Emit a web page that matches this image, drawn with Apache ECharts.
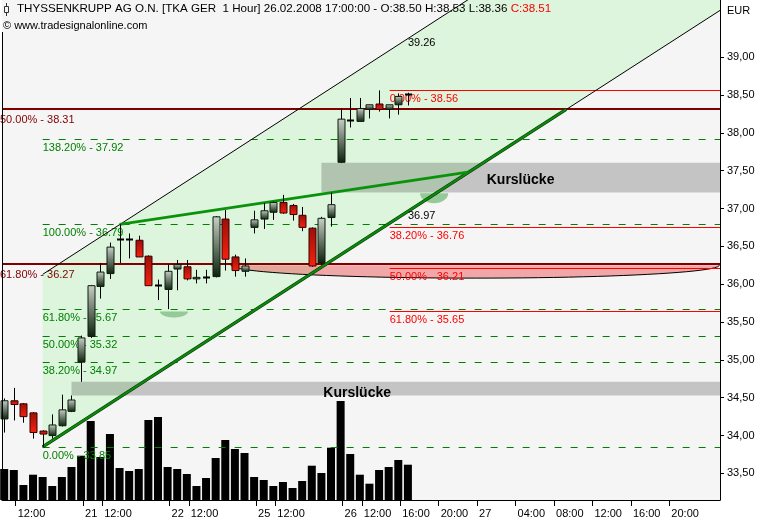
<!DOCTYPE html>
<html>
<head>
<meta charset="utf-8">
<script src="https://cdn.jsdelivr.net/npm/echarts@6/dist/echarts.min.js"></script>
<style>
html,body{margin:0;padding:0;background:#ffffff;}
#chart{width:769px;height:520px;}
</style>
</head>
<body>
<div id="chart"></div>
<script>
// ---------------- data ----------------
const barTimes = [
 '20.02. 11:00','20.02. 12:00','20.02. 13:00','20.02. 14:00','20.02. 15:00','20.02. 16:00','20.02. 17:00','20.02. 17:30',
 '21.02. 10:00','21.02. 11:00','21.02. 12:00','21.02. 13:00','21.02. 14:00','21.02. 15:00','21.02. 16:00','21.02. 17:00','21.02. 17:30',
 '22.02. 10:00','22.02. 11:00','22.02. 12:00','22.02. 13:00','22.02. 14:00','22.02. 15:00','22.02. 16:00','22.02. 17:00','22.02. 17:30',
 '25.02. 10:00','25.02. 11:00','25.02. 12:00','25.02. 13:00','25.02. 14:00','25.02. 15:00','25.02. 16:00','25.02. 17:00','25.02. 17:30',
 '26.02. 10:00','26.02. 11:00','26.02. 12:00','26.02. 13:00','26.02. 14:00','26.02. 15:00','26.02. 16:00','26.02. 17:00'
];
const opens  = [34.22,34.46,34.42,34.30,34.06,34.00,34.13,34.32, 34.97,35.31,35.97,36.14,36.59,36.60,36.58,36.37,35.99,
                35.93,36.20,36.23,36.07,36.09,36.10,36.86,36.36,36.17, 36.75,36.86,36.95,37.08,37.04,36.91,36.74,36.28,36.88,
                37.61,38.17,38.15,38.31,38.38,38.31,38.37,38.50];
const closes = [34.46,34.41,34.25,34.04,34.02,34.14,34.34,34.47, 35.29,35.98,36.16,36.49,36.60,36.59,36.36,35.98,35.99,
                36.17,36.26,36.07,36.09,36.09,36.89,36.33,36.18,36.24, 36.85,36.97,37.08,36.94,36.92,36.75,36.24,36.87,37.05,
                38.18,38.16,38.32,38.37,38.31,38.37,38.48,38.51];
const lows   = [34.04,34.20,34.17,33.96,33.85,33.96,34.12,34.31, 34.71,35.29,35.81,36.07,36.28,36.34,36.36,35.98,35.79,
                35.67,35.92,36.05,36.01,36.01,36.09,36.18,36.10,36.10, 36.67,36.73,36.85,36.93,36.84,36.70,36.23,36.26,36.76,
                37.60,38.07,38.15,38.19,38.28,38.19,38.24,38.36];
const highs  = [34.49,34.63,34.43,34.31,34.07,34.28,34.54,34.53, 35.32,35.99,36.28,36.55,36.79,36.67,36.64,36.38,36.06,
                36.26,36.32,36.32,36.19,36.19,36.90,36.98,36.39,36.34, 36.97,37.07,37.09,37.18,37.06,37.02,36.75,36.89,37.21,
                38.32,38.46,38.46,38.37,38.56,38.37,38.52,38.53];
const volumes = [310,300,150,253,230,140,230,330, 443,790,430,660,320,290,310,800,830,
                 330,310,260,140,220,420,600,510,470, 230,200,140,180,120,190,343,270,523,
                 990,460,253,163,300,330,400,353];

const tickSlots  = [1,8,10,17,19,26,28,35,37,41,45,49,53,57,61,65,69];
const tickLabels = ['12:00','21','12:00','22','12:00','25','12:00','26','12:00','16:00','20:00','27','04:00','08:00','12:00','16:00','20:00'];
const priceTicks = [33.5,34.0,34.5,35.0,35.5,36.0,36.5,37.0,37.5,38.0,38.5,39.0];

const fibGreenLevels = [33.85,34.97,35.32,35.67,36.79,37.92];
const fibGreenPct    = ['0.00%','38.20%','50.00%','61.80%','100.00%','138.20%'];
const fibGreenStart  = 4;
const fibRedLevels   = [38.56,36.76,36.21,35.65];
const fibRedPct      = ['0.00%','38.20%','50.00%','61.80%'];
const fibRedStart    = 40.1;
const keyLevels      = [38.31,36.27];
const keyPct         = ['50.00%','61.80%'];

const channelUpper     = [[4,36.13],[75,41.95]];
const channelLower     = [[4,33.85],[75,39.66]];
const channelLowerBold = [[4,33.85],[58.46,38.31]];
const triangleUpper    = [[12,36.79],[48.25,37.48]];

const gapStart  = [7,33];
const gapTop    = [34.71,37.605];
const gapBottom = [34.53,37.21];
const gapLabel  = 'Kurslücke';
const gapLabelSlot  = [33.2,50.2];
const gapLabelPrice = [34.563,37.376];

const lineValueSlot  = [42,42];
const lineValuePrice = [39.26,36.97];

const greenArcCenter = [17.66,44.73];
const greenArcHalf   = [1.46,1.46];
const greenArcLevel  = [35.64,37.20];
const greenArcDepth  = [0.08,0.13];
const pinkArcCenter = 49.0, pinkArcHalf = 25.4, pinkArcLevel = 36.25, pinkArcDepth = 0.17;

// ---------------- chart ----------------
const FONT = '"Liberation Sans", Arial, sans-serif';
const X_MIN = -0.229, X_MAX = 74.469;
const Y_MIN = 33.149, Y_MAX = 39.754;
const last = opens.length - 1;

const candleData = opens.map((o,i)=>[i,o,closes[i],lows[i],highs[i]]);
const volData = volumes.map((v,i)=>[i,v]);

function clipRect(params){
  const c = params.coordSys;
  return {type:'rect', shape:{x:c.x, y:c.y, width:c.width, height:c.height}};
}
function arcPoints(api, c, hw, lvl, d){
  const pts = [];
  for (let k=0;k<=48;k++){
    const t = Math.PI*k/48;
    pts.push(api.coord([c + hw*Math.cos(t), lvl - d*Math.sin(t)]));
  }
  return pts;
}

const upGrad = new echarts.graphic.LinearGradient(0,0,0,1,[{offset:0,color:'#c9d0c9'},{offset:1,color:'#0b200b'}]);
const dnGrad = new echarts.graphic.LinearGradient(0,0,0,1,[{offset:0,color:'#9c0f08'},{offset:1,color:'#f5220f'}]);

const series = [
  // channel fill
  {type:'custom', z:1, silent:true, data:[channelLower[0]],
   renderItem:(params,api)=>({type:'polygon', clipPath:clipRect(params),
     shape:{points:[api.coord(channelUpper[0]),api.coord(channelUpper[1]),api.coord(channelLower[1]),api.coord(channelLower[0])]},
     style:{fill:'#dcf5dc'}})},
  // gap boxes
  {type:'custom', z:2, silent:true, data:gapStart.map((s,i)=>[s,gapTop[i],i]),
   renderItem:(params,api)=>{
     const i = api.value(2);
     const p0 = api.coord([api.value(0), gapTop[i]]), p1 = api.coord([api.value(0), gapBottom[i]]);
     const right = params.coordSys.x + params.coordSys.width;
     return {type:'rect', shape:{x:p0[0], y:p0[1], width:right-p0[0], height:p1[1]-p0[1]}, style:{fill:'rgba(0,0,0,0.2)'}};
   }},
  // pink arc
  {type:'custom', z:2, silent:true, data:[[pinkArcCenter,pinkArcLevel]],
   renderItem:(params,api)=>{
     const pts = arcPoints(api,pinkArcCenter,pinkArcHalf,pinkArcLevel,pinkArcDepth);
     return {type:'group', clipPath:clipRect(params), children:[
       {type:'polygon', shape:{points:pts}, style:{fill:'rgba(235,60,60,0.42)'}},
       {type:'polyline', shape:{points:pts}, style:{stroke:'#000', lineWidth:1, fill:null}}
     ]};
   }},
  // green arcs
  {type:'custom', z:2, silent:true, data:greenArcCenter.map((c,i)=>[c,greenArcLevel[i],i]),
   renderItem:(params,api)=>{
     const i = api.value(2);
     return {type:'polygon', shape:{points:arcPoints(api,greenArcCenter[i],greenArcHalf[i],greenArcLevel[i],greenArcDepth[i])},
       style:{fill:'#95c995'}};
   }},
  // volume
  {type:'bar', z:3, silent:true, xAxisIndex:0, yAxisIndex:1, data:volData, barWidth:8, itemStyle:{color:'#000'}},
  // green fib levels
  {type:'custom', z:4, silent:true, data:fibGreenLevels.map((v,i)=>[fibGreenStart,v,i]),
   renderItem:(params,api)=>{
     const i = api.value(2);
     const p = api.coord([api.value(0), api.value(1)]);
     const right = params.coordSys.x + params.coordSys.width;
     const y = Math.round(p[1]) + 0.5;
     return {type:'group', children:[
       {type:'line', shape:{x1:p[0], y1:y, x2:right, y2:y}, style:{stroke:'#008000', lineWidth:1, lineDash:[7,9]}},
       {type:'text', style:{x:p[0], y:y+3, text:fibGreenPct[i]+' - '+fibGreenLevels[i].toFixed(2), fill:'#008000',
         font:'11px '+FONT, align:'left', verticalAlign:'top'}}
     ]};
   }},
  // red fib levels
  {type:'custom', z:4, silent:true, data:fibRedLevels.map((v,i)=>[fibRedStart,v,i]),
   renderItem:(params,api)=>{
     const i = api.value(2);
     const p = api.coord([api.value(0), api.value(1)]);
     const right = params.coordSys.x + params.coordSys.width;
     const y = Math.round(p[1]) + 0.5;
     return {type:'group', children:[
       {type:'line', shape:{x1:p[0], y1:y, x2:right, y2:y}, style:{stroke:'#ff0000', lineWidth:1}},
       {type:'text', style:{x:p[0], y:y+3, text:fibRedPct[i]+' - '+fibRedLevels[i].toFixed(2), fill:'#ff0000',
         font:'11px '+FONT, align:'left', verticalAlign:'top'}}
     ]};
   }},
  // key levels (dark red)
  {type:'custom', z:5, silent:true, data:keyLevels.map((v,i)=>[X_MIN,v,i]),
   renderItem:(params,api)=>{
     const i = api.value(2);
     const p = api.coord([api.value(0), api.value(1)]);
     const c = params.coordSys;
     const y = Math.round(p[1]);
     return {type:'group', children:[
       {type:'line', shape:{x1:c.x, y1:y, x2:c.x+c.width, y2:y}, style:{stroke:'#800000', lineWidth:2}},
       {type:'text', style:{x:0, y:y+5, text:keyPct[i]+' - '+keyLevels[i].toFixed(2), fill:'#800000',
         font:'11px '+FONT, align:'left', verticalAlign:'top'}}
     ]};
   }},
  // trend lines
  {type:'line', z:6, silent:true, data:channelUpper, symbol:'none', lineStyle:{color:'#000', width:1}},
  {type:'line', z:6, silent:true, data:channelLower, symbol:'none', lineStyle:{color:'#000', width:1}},
  {type:'line', z:6, silent:true, data:channelLowerBold, symbol:'none', lineStyle:{color:'#063806', width:3.2}},
  {type:'line', z:6, silent:true, data:channelLowerBold, symbol:'none', lineStyle:{color:'#0c8a0c', width:2}},
  {type:'line', z:6, silent:true, data:triangleUpper, symbol:'none', lineStyle:{color:'#0a930a', width:2.6}},
  // candles
  {type:'custom', z:7, silent:true, data:candleData,
   renderItem:(params,api)=>{
     const s = api.value(0), o = api.value(1), c = api.value(2), l = api.value(3), h = api.value(4);
     const po = api.coord([s,o]), pc = api.coord([s,c]), pl = api.coord([s,l]), ph = api.coord([s,h]);
     const w = 7;
     const x = Math.round(po[0]) + 0.5;
     const top = Math.min(po[1],pc[1]), bot = Math.max(po[1],pc[1]);
     const ch = [{type:'line', shape:{x1:x, y1:ph[1], x2:x, y2:pl[1]}, style:{stroke:'#000', lineWidth:1}}];
     if (bot - top < 1.5) {
       ch.push({type:'line', shape:{x1:x-w/2, y1:Math.round(top)+0.5, x2:x+w/2, y2:Math.round(top)+0.5}, style:{stroke:'#000', lineWidth:2}});
     } else {
       const up = c >= o;
       ch.push({type:'rect', shape:{x:x-w/2, y:top, width:w, height:bot-top},
         style:{fill: up ? upGrad : dnGrad, stroke: up ? '#0d1d0d' : '#3a0000', lineWidth:1}});
     }
     return {type:'group', children:ch};
   }},
  // texts: gap labels + line values
  {type:'custom', z:8, silent:true, data:gapLabelSlot.map((s,i)=>[s,gapLabelPrice[i]]),
   renderItem:(params,api)=>{
     const p = api.coord([api.value(0), api.value(1)]);
     return {type:'text', style:{x:p[0], y:p[1], text:gapLabel, fill:'#000', font:'bold 14px '+FONT, align:'left', verticalAlign:'middle'}};
   }},
  {type:'custom', z:8, silent:true, data:lineValueSlot.map((s,i)=>[s,lineValuePrice[i]]),
   renderItem:(params,api)=>{
     const p = api.coord([api.value(0), api.value(1)]);
     return {type:'text', style:{x:p[0], y:p[1], text:api.value(1).toFixed(2), fill:'#000', font:'11px '+FONT, align:'left', verticalAlign:'top'}};
   }}
];

const labelMap = {};
tickSlots.forEach((s,i)=>{ labelMap[s] = tickLabels[i]; });
const tickVals = tickSlots.map(s=>s+0.2);

const titleMain = 'THYSSENKRUPP AG O.N. [TKA GER  1 Hour] 26.02.2008 17:00:00 - O:' + opens[last].toFixed(2) +
  ' H:' + highs[last].toFixed(2) + ' L:' + lows[last].toFixed(2) + ' ';
const titleClose = 'C:' + closes[last].toFixed(2);
const TFONT = '11.6px ' + FONT;

const option = {
  animation:false,
  backgroundColor:'#ffffff',
  grid:{left:2, right:49, top:0, bottom:20, show:true, backgroundColor:'#f5f5f5', borderWidth:0},
  xAxis:{type:'value', min:X_MIN, max:X_MAX, position:'bottom',
    axisLine:{show:true, onZero:false, lineStyle:{color:'#000', width:1}},
    axisTick:{show:true, customValues:tickVals, length:6, lineStyle:{color:'#000'}},
    axisLabel:{show:true, customValues:tickVals, formatter:(v)=>labelMap[Math.round(v-0.2)] || '',
      align:'left', margin:8, padding:[0,0,0,2], color:'#000', fontSize:11, fontFamily:FONT},
    splitLine:{show:false}},
  yAxis:[
    {type:'value', position:'right', min:Y_MIN, max:Y_MAX,
     axisLine:{show:true, onZero:false, lineStyle:{color:'#000', width:1}},
     axisTick:{show:true, customValues:priceTicks, length:4, lineStyle:{color:'#000'}},
     axisLabel:{show:true, customValues:priceTicks, formatter:(v)=>v.toFixed(2).replace('.',','),
       margin:7, color:'#000', fontSize:11, fontFamily:FONT},
     splitLine:{show:false}},
    {type:'value', min:0, max:5000, show:false}
  ],
  series: series,
  graphic:[
    {type:'line', z:100, shape:{x1:2.5, y1:32, x2:2.5, y2:500}, style:{stroke:'#000', lineWidth:1}},
    {type:'line', z:100, shape:{x1:6.5, y1:3, x2:6.5, y2:16}, style:{stroke:'#333', lineWidth:1}},
    {type:'rect', z:100, shape:{x:4.5, y:6.5, width:4, height:6}, style:{fill:'#f5f5f5', stroke:'#333', lineWidth:1}},
    {type:'text', z:100, left:17, top:3, style:{text:'{a|'+titleMain+'}{r|'+titleClose+'}', font:TFONT,
      rich:{a:{fill:'#000', font:TFONT}, r:{fill:'#ff0000', font:TFONT}}}},
    {type:'text', z:100, left:3, top:20, style:{text:'© www.tradesignalonline.com', fill:'#000', font:'11px '+FONT}},
    {type:'text', z:100, left:727, top:5, style:{text:'EUR', fill:'#000', font:'11px '+FONT}}
  ]
};

const chart = echarts.init(document.getElementById('chart'), null, {renderer:'canvas'});
chart.setOption(option);
</script>
</body>
</html>
